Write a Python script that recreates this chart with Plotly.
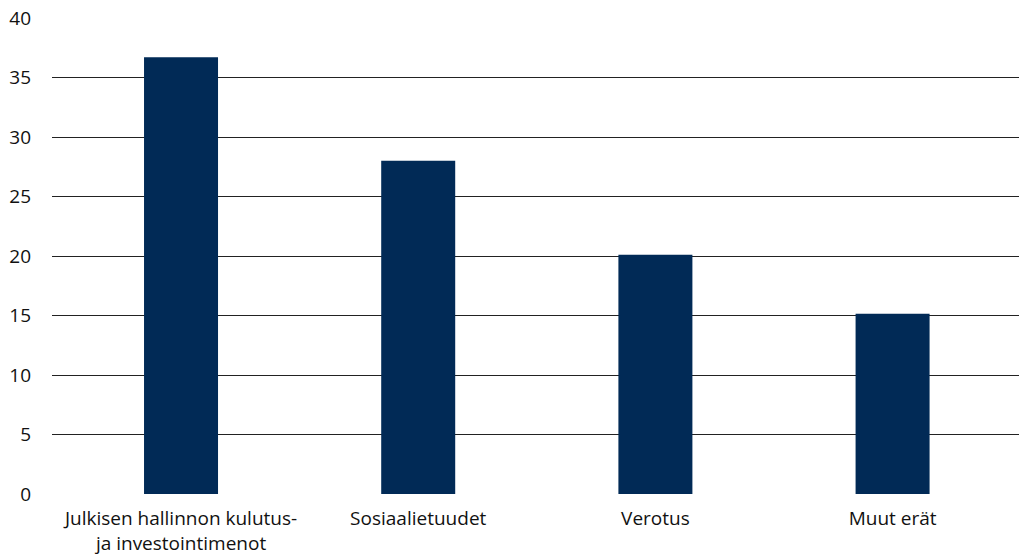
import plotly.graph_objects as go

categories = ["Julkisen hallinnon kulutus-<br>ja investointimenot", "Sosiaalietuudet", "Verotus", "Muut erät"]
values = [36.7, 28.0, 20.1, 15.15]
y_ticks = [0, 5, 10, 15, 20, 25, 30, 35, 40]

fig = go.Figure(
    go.Bar(
        x=list(range(len(categories))),
        y=values,
        width=0.312,
        marker=dict(color="#012a56", line=dict(width=0)),
        hoverinfo="skip",
    )
)

font_family = "'Open Sans', Lato, sans-serif"
label_font = dict(size=19, family=font_family, color="#111111")

fig.update_layout(
    width=1019,
    height=559,
    margin=dict(l=52, r=0, t=18, b=65),
    paper_bgcolor="white",
    plot_bgcolor="white",
    showlegend=False,
    font=label_font,
    xaxis=dict(
        tickmode="array",
        tickvals=list(range(len(categories))),
        ticktext=categories,
        range=[-0.544, 3.533],
        showgrid=False,
        zeroline=False,
        showline=False,
        ticks="",
        ticklabelstandoff=11,
        tickfont=label_font,
    ),
    yaxis=dict(
        range=[0, 40],
        tickvals=y_ticks,
        showgrid=True,
        gridcolor="#222222",
        gridwidth=1,
        zeroline=False,
        showline=False,
        ticks="",
        ticklabelstandoff=20,
        tickfont=label_font,
    ),
)

fig.write_html("out.html")
